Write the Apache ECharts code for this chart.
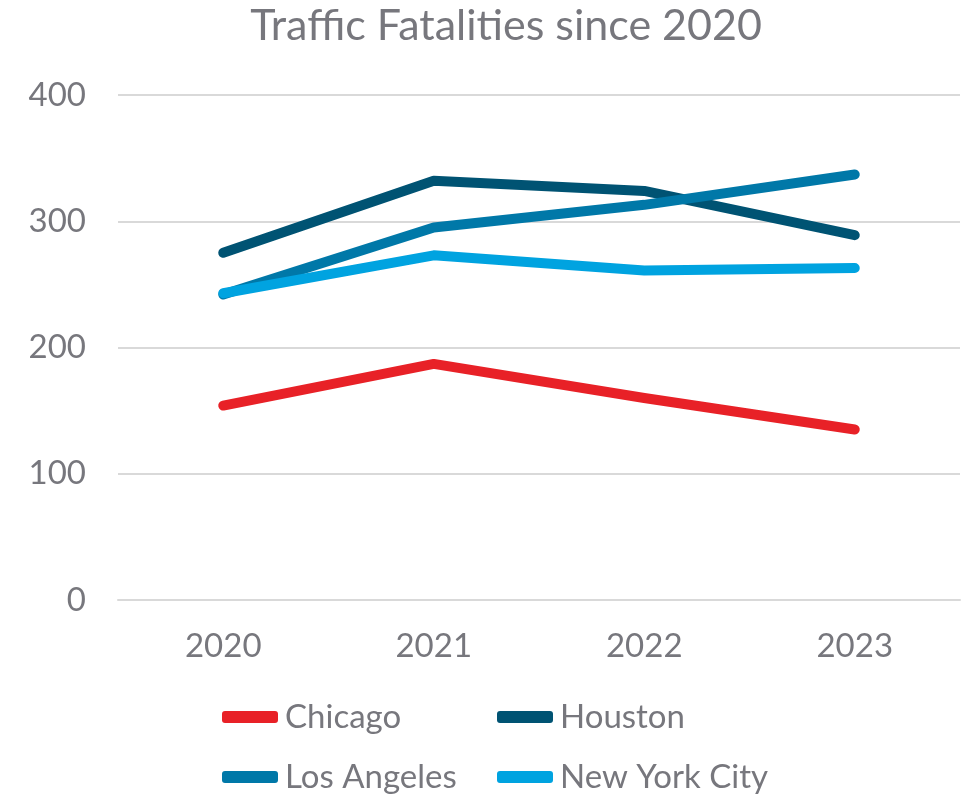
<!DOCTYPE html>
<html>
<head>
<meta charset="utf-8">
<script src="https://cdn.jsdelivr.net/npm/echarts@6/dist/echarts.min.js"></script>
<style>
  html, body { margin: 0; padding: 0; background: #fff; }
  #main { width: 969px; height: 796px; }
</style>
</head>
<body>
<div id="main"></div>
<script>
    var years = ['2020', '2021', '2022', '2023'];
    var chicago = [154, 187, 160, 135];
    var houston = [275, 332, 324, 289];
    var losAngeles = [242, 295, 313, 337];
    var newYork = [243, 273, 261, 263];
    var yTicks = [0, 100, 200, 300, 400];

    var textColor = '#77777d';
    var font = 'Lato';

    function lineSeries(name, data, color) {
        return {
            name: name,
            type: 'line',
            data: data,
            symbol: 'none',
            lineStyle: { width: 10, color: color, cap: 'round', join: 'round' },
            itemStyle: { color: color }
        };
    }

    var myChart = echarts.init(document.getElementById('main'));
    var legendText = { color: textColor, fontSize: 33, lineHeight: 34, fontFamily: font, padding: [0, 0, 0, 2] };
    var option = {
        animation: false,
        title: {
            text: 'Traffic Fatalities since 2020',
            left: 501,
            top: 0,
            textAlign: 'center',
            textStyle: { color: textColor, fontSize: 43, fontWeight: 'normal', fontFamily: font }
        },
        legend: [{
            data: ['Chicago', 'Los Angeles'],
            orient: 'vertical',
            left: 222,
            top: 700,
            padding: 0,
            itemWidth: 56,
            itemHeight: 12,
            itemGap: 26,
            icon: 'roundRect',
            textStyle: legendText
        }, {
            data: ['Houston', 'New York City'],
            orient: 'vertical',
            left: 497,
            top: 700,
            padding: 0,
            itemWidth: 56,
            itemHeight: 12,
            itemGap: 26,
            icon: 'roundRect',
            textStyle: legendText
        }],
        grid: {
            left: 118,
            right: 9,
            top: 95,
            height: 505
        },
        xAxis: {
            type: 'category',
            data: years,
            boundaryGap: true,
            axisLine: { show: true, lineStyle: { color: '#d9d9d9', width: 2 } },
            axisTick: { show: false },
            axisLabel: { color: textColor, fontSize: 33, fontFamily: font, margin: 30 }
        },
        yAxis: {
            type: 'value',
            min: yTicks[0],
            max: yTicks[yTicks.length - 1],
            interval: 100,
            axisLine: { show: false },
            axisTick: { show: false },
            axisLabel: { color: textColor, fontSize: 33, fontFamily: font, margin: 32 },
            splitLine: { lineStyle: { color: '#d9d9d9', width: 2 } }
        },
        series: [
            lineSeries('Chicago', chicago, '#E82127'),
            lineSeries('Houston', houston, '#005373'),
            lineSeries('Los Angeles', losAngeles, '#0078A8'),
            lineSeries('New York City', newYork, '#00A3E0')
        ]
    };
    myChart.setOption(option);
</script>
</body>
</html>
